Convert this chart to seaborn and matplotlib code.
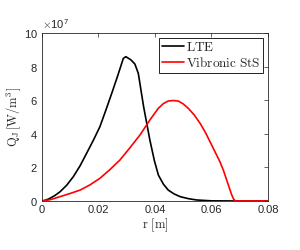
import numpy as np
import pandas as pd
import matplotlib
matplotlib.use("Agg")
import matplotlib.pyplot as plt
import seaborn as sns
from matplotlib.ticker import ScalarFormatter

# Data (Q_J in units of 1e7 W/m^3)
r_lte = [0.0, 0.0015, 0.0028, 0.0045, 0.0064, 0.0088, 0.0111, 0.0135, 0.0158, 0.0182,
         0.0205, 0.0226, 0.0247, 0.0268, 0.0288, 0.0297, 0.0315,
         0.0329, 0.0341, 0.0360, 0.0382, 0.0398, 0.0412, 0.0430, 0.0447, 0.0468,
         0.0489, 0.0518, 0.0548, 0.060, 0.070, 0.080]
q_lte = [0.0, 0.06, 0.16, 0.32, 0.55, 0.95, 1.45, 2.10, 2.84, 3.62,
         4.42, 5.40, 6.41, 7.45, 8.49, 8.59, 8.40,
         8.15, 7.6, 5.6, 3.63, 2.40, 1.55, 1.00, 0.65, 0.42,
         0.26, 0.14, 0.06, 0.01, 0.0, 0.0]
r_sts = [0.0, 0.003, 0.0064, 0.010, 0.0135, 0.017, 0.0205, 0.024, 0.0276, 0.031,
         0.0347, 0.0382, 0.0412, 0.0430, 0.0447, 0.0465,
         0.0483, 0.050, 0.0518, 0.054, 0.056, 0.0578, 0.0595, 0.0612, 0.063,
         0.0643, 0.0654, 0.0664, 0.0672, 0.0679, 0.0685, 0.075, 0.080]
q_sts = [0.0, 0.08, 0.26, 0.45, 0.65, 0.96, 1.35, 1.86, 2.44, 3.14,
         3.93, 4.82, 5.52, 5.80, 5.95, 5.98,
         5.95, 5.78, 5.52, 5.10, 4.62, 4.10, 3.53, 2.95, 2.34,
         1.80, 1.25, 0.75, 0.36, 0.10, 0.0, 0.0, 0.0]
labels = [r'$\mathrm{LTE}$', r'$\mathrm{Vibronic\ StS}$']
scale = 1e7

df = pd.concat([
    pd.DataFrame({'r': r_lte, 'Q': np.array(q_lte) * scale, 'case': labels[0]}),
    pd.DataFrame({'r': r_sts, 'Q': np.array(q_sts) * scale, 'case': labels[1]}),
])

sns.set_style("white")
plt.rcParams['font.family'] = ['Liberation Sans', 'DejaVu Sans']
plt.rcParams['mathtext.fontset'] = 'cm'

fig = plt.figure(figsize=(3.0, 2.5), dpi=100)
ax = fig.add_axes([0.14, 0.196, 0.753, 0.672])

sns.lineplot(data=df, x='r', y='Q', hue='case', palette=['black', 'red'],
             linewidth=1.2, ax=ax, sort=False, estimator=None)

ax.set_xlim(0, 0.08)
ax.set_ylim(0, 10e7)
ax.set_xticks([0, 0.02, 0.04, 0.06, 0.08])
ax.set_xticklabels(['0', '0.02', '0.04', '0.06', '0.08'])
ax.set_yticks([0, 2e7, 4e7, 6e7, 8e7, 10e7])
fmt = ScalarFormatter(useMathText=True)
fmt.set_powerlimits((7, 7))
ax.yaxis.set_major_formatter(fmt)
ax.yaxis.get_offset_text().set_fontsize(8)
ax.yaxis.get_offset_text().set_color('#262626')

ax.tick_params(direction='in', length=3, width=0.5, labelsize=8,
               colors='#262626', top=True, right=True, pad=3)
for s in ax.spines.values():
    s.set_visible(True)
    s.set_color('#262626')
    s.set_linewidth(0.6)

ax.set_xlabel(r'$\mathrm{r\ [m]}$', fontsize=9, labelpad=1)
ax.set_ylabel(r'$\mathrm{Q_J\,[W/m^3]}$', fontsize=9, labelpad=1)

leg = ax.legend(loc='upper right', fontsize=9.5, frameon=True, fancybox=False,
                edgecolor='black', framealpha=1, borderaxespad=0.35,
                handlelength=1.7, handletextpad=0.1, borderpad=0.25,
                labelspacing=0.15)
leg.get_frame().set_linewidth(0.6)

fig.savefig('out.png', dpi=100)
